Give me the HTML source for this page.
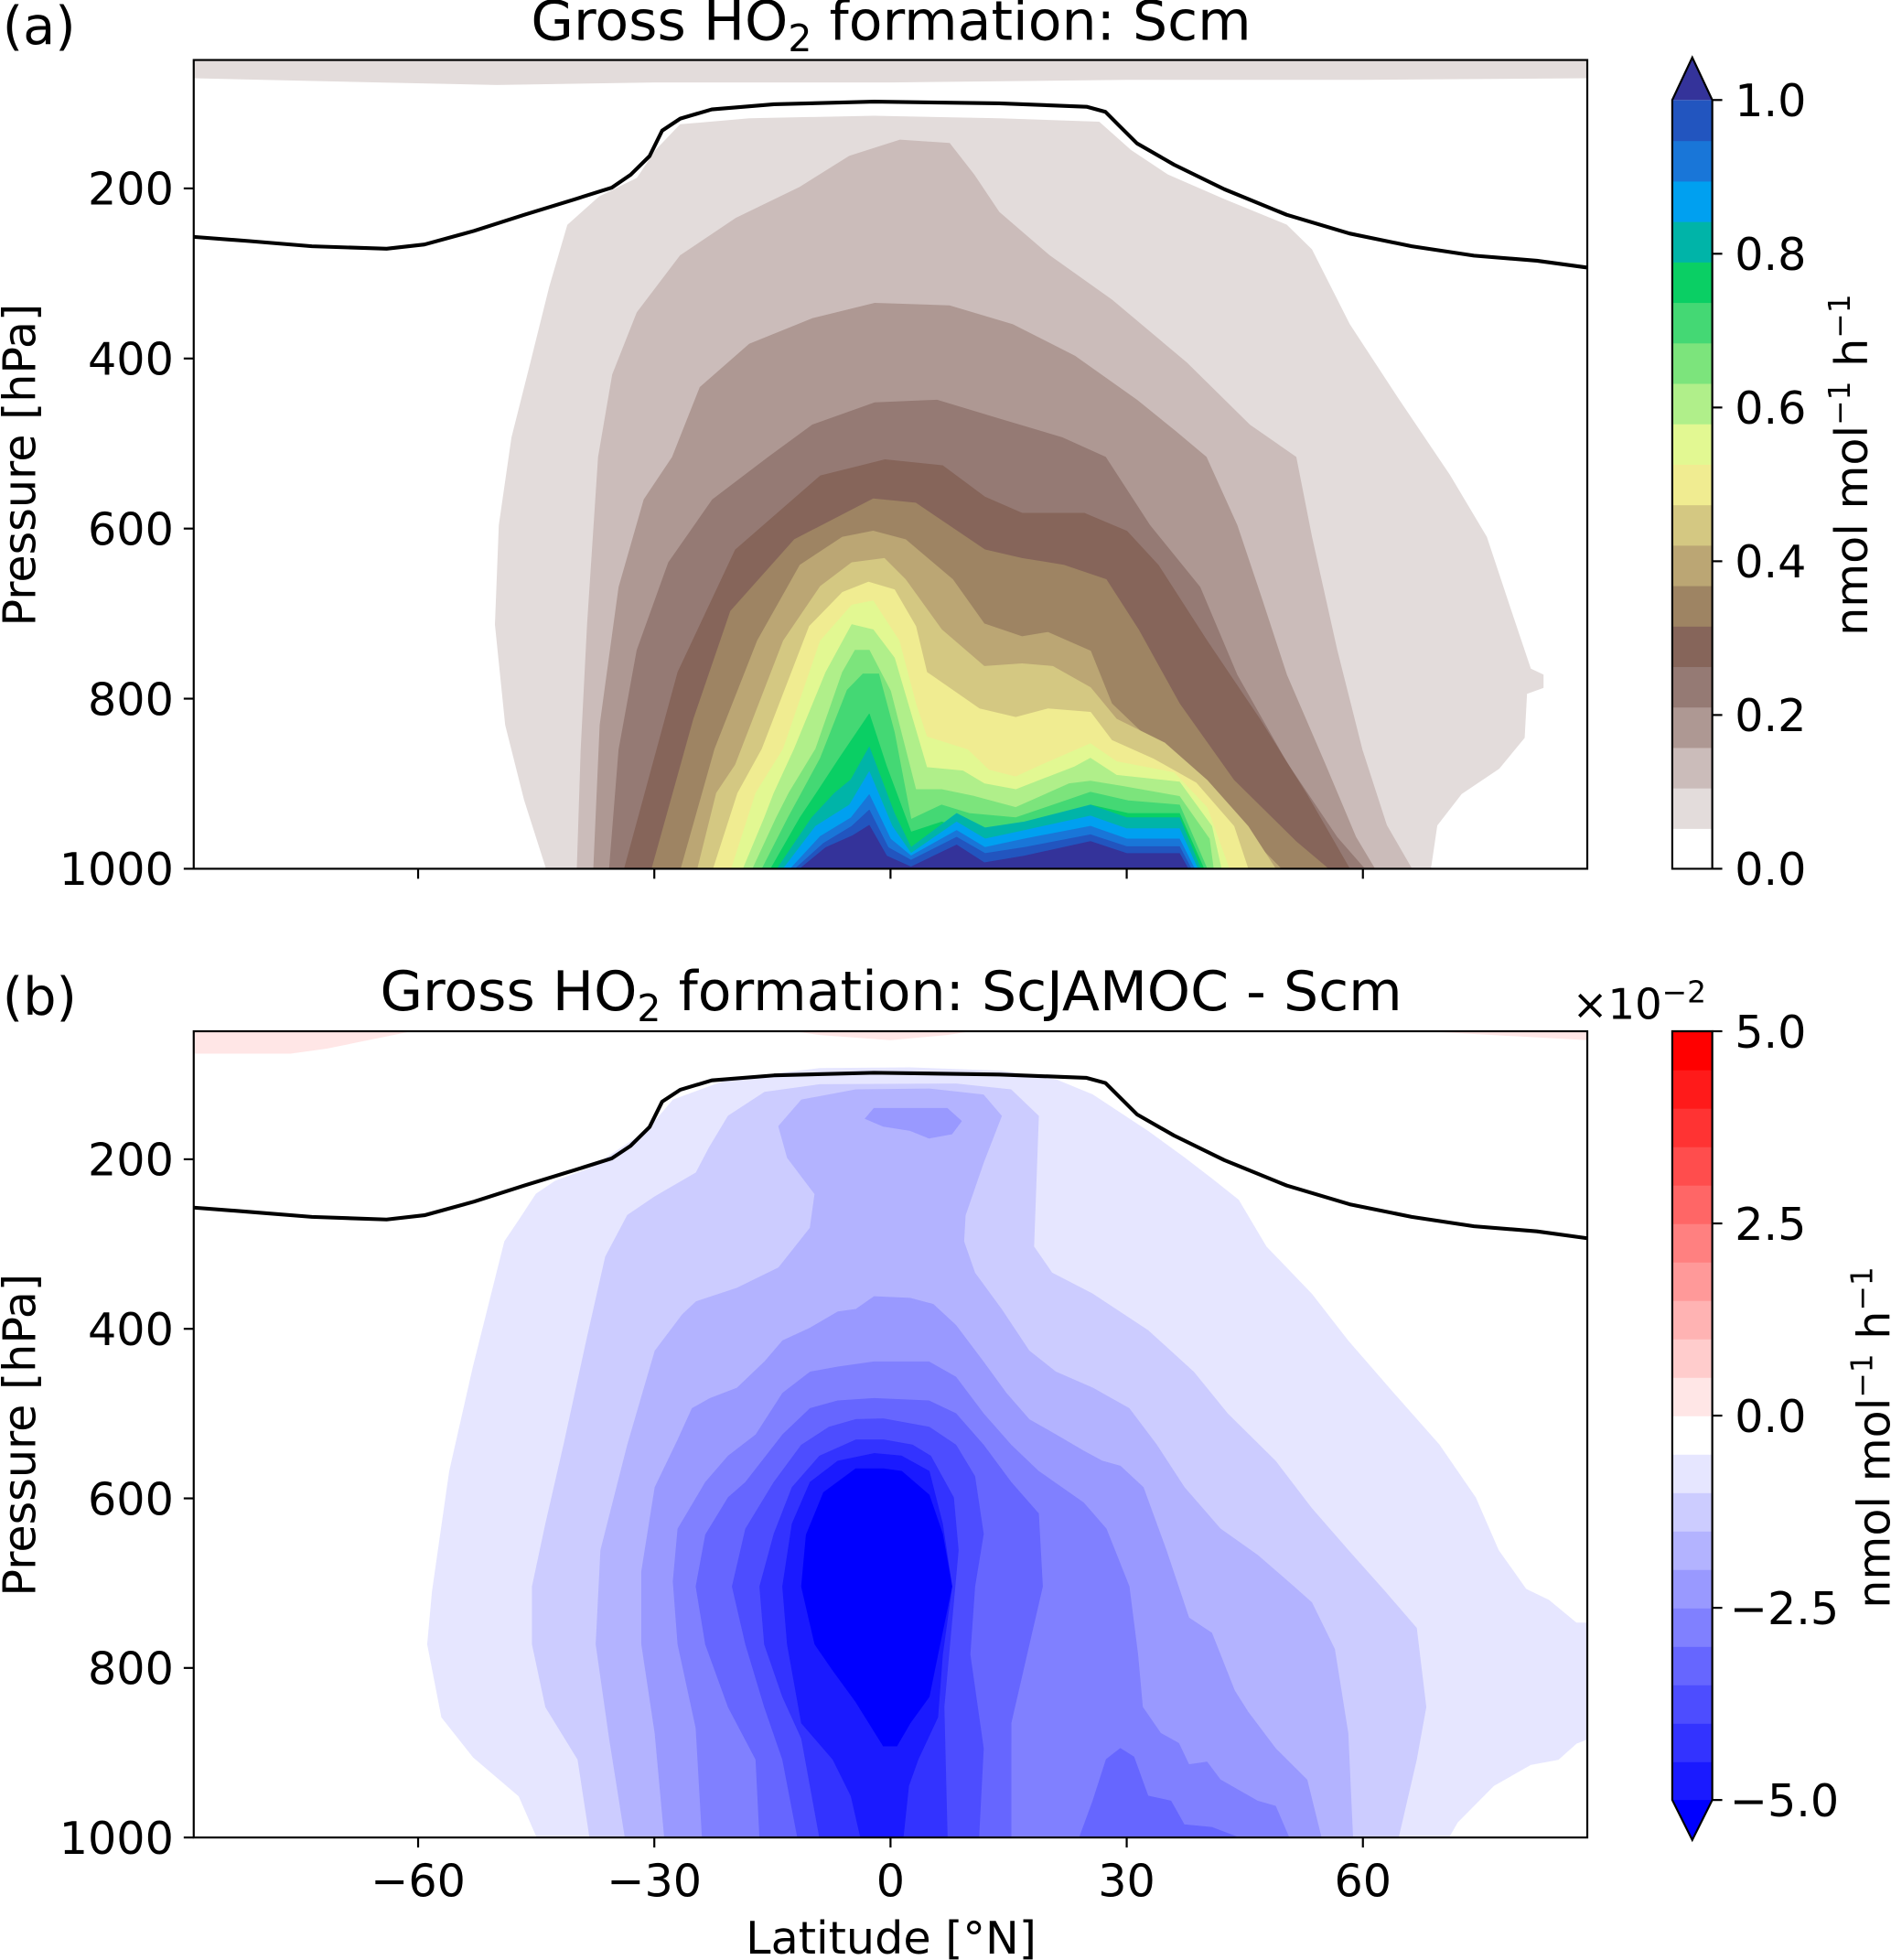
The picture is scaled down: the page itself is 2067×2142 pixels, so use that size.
<!DOCTYPE html>
<html><head><meta charset="utf-8"><title>Gross HO2 formation</title>
<style>
html,body{margin:0;padding:0;background:#fff;}
svg{display:block;}
text{font-family:"DejaVu Sans","Liberation Sans",sans-serif;fill:#000;}
</style></head>
<body>
<svg id="fig" xmlns="http://www.w3.org/2000/svg" width="2067" height="2142" viewBox="0 0 1513 1568" preserveAspectRatio="none">
<defs>
<clipPath id="clipA"><rect x="155" y="48" width="1115" height="647"/></clipPath>
<clipPath id="clipB"><rect x="155" y="825" width="1115" height="645"/></clipPath>
</defs>
<g id="panelA"></g>
<g id="panelB"></g>
<g id="cbarA"></g>
<g id="cbarB"></g>
<text x="2" y="35" font-size="42">(a)</text>
<text x="2" y="812" font-size="42">(b)</text>
<text x="713" y="32" font-size="44" text-anchor="middle">Gross HO<tspan font-size="30" dy="9">2</tspan><tspan dy="-9"> formation: Scm</tspan></text>
<text x="713" y="808" font-size="44" text-anchor="middle">Gross HO<tspan font-size="30" dy="9">2</tspan><tspan dy="-9"> formation: ScJAMOC - Scm</tspan></text>
<text transform="translate(28,372) rotate(-90)" font-size="36" text-anchor="middle">Pressure [hPa]</text>
<text transform="translate(28,1148) rotate(-90)" font-size="36" text-anchor="middle">Pressure [hPa]</text>
<text x="713" y="1563" font-size="36" text-anchor="middle">Latitude [°N]</text>
<text transform="translate(1494,372) rotate(-90)" font-size="36" text-anchor="middle">nmol mol<tspan font-size="24" dy="-14">−1</tspan><tspan dy="14"> h</tspan><tspan font-size="24" dy="-14">−1</tspan></text>
<text transform="translate(1512,1150) rotate(-90)" font-size="36" text-anchor="middle">nmol mol<tspan font-size="24" dy="-14">−1</tspan><tspan dy="14"> h</tspan><tspan font-size="24" dy="-14">−1</tspan></text>
<text x="1258" y="815" font-size="34">×10<tspan font-size="24" dy="-13">−2</tspan></text>
</svg>
<script>
// ---------- shared axes data ----------
const latTicks = [-60, -30, 0, 30, 60];
const latTickLabels = ["−60", "−30", "0", "30", "60"];
const pTicks = [200, 400, 600, 800, 1000];
const pTickLabels = ["200", "400", "600", "800", "1000"];
const tropopause = [[-88.5,257],[-81.4,262],[-73.5,268],[-64,271],[-59.2,266],[-52.9,250],[-46.5,231],[-40.2,213],[-35.4,199],[-33,184],[-30.6,162],[-29,132],[-26.7,118],[-22.7,107],[-14.8,101],[-2.1,98],[13.8,100],[24.9,104],[27.3,110],[28.9,125],[31.3,147],[36,172],[42.4,201],[50.3,231],[58.3,253],[66.2,268],[74.1,279],[82.1,285],[88.4,293]];

// ---------- panel (a) contour data: [lat, hPa] boundaries ----------
const aTop = [[-88.5,49],[88.5,49],[88.5,70],[60,72],[30,72],[0,75],[-30,75],[-50,78],[-65,75],[-88.5,70]];
const a05 = [[-43.7,1000],[-46.5,919],[-48.9,831],[-50.2,713],[-49.7,596],[-48.1,493],[-45.7,405],[-43.3,316],[-41,243],[-37,210],[-32.2,188],[-29.8,155],[-26.7,125],[-17.9,118],[-2.1,115],[13.8,118],[26.5,122],[30.5,155],[35.2,184],[42.4,213],[50.3,243],[53.5,272],[58.3,360],[64.6,449],[71,537],[75.7,610],[78.9,699],[81.3,765],[82.9,772],[82.9,787],[80.8,794],[80.5,846],[77.3,882],[72.5,912],[69.4,949],[68.6,1000]];
const a10 = [[-39.8,1000],[-39.3,860],[-38.5,713],[-37.1,516],[-35.3,419],[-32.2,346],[-26.7,279],[-19.6,235],[-11.6,199],[-5.2,162],[1.2,143],[7.5,147],[10.6,184],[13.8,228],[20.2,279],[28.1,331],[37.6,405],[45.6,478],[51.5,516],[53.5,610],[56.7,743],[59.9,860],[63,949],[66.2,1000]];
const a15 = [[-37.7,1000],[-36.9,831],[-34.5,669],[-31.3,566],[-27.7,516],[-24.2,434],[-17.9,383],[-9.9,353],[-2,335],[7.5,338],[15.5,360],[23.4,397],[31.3,449],[36.1,485],[40.1,516],[44,596],[47.2,684],[50.3,772],[55.1,875],[59.1,963],[61.5,1000]];
const a20 = [[-35.7,1000],[-34.5,860],[-32.2,743],[-28.2,640],[-22.6,566],[-15.5,516],[-9.9,478],[-2,452],[5.9,449],[13.8,471],[21.8,493],[27.3,516],[32.9,596],[39.3,669],[44,772],[50.3,875],[56.7,963],[60.2,1000]];
const a25 = [[-33.8,1000],[-27,769],[-19.7,625],[-8.9,538],[-0.7,519],[6.6,526],[12,563],[16.7,582],[24.6,582],[30,603],[34,643],[40.2,732],[46.9,824],[52.9,913],[58.3,1000]];
const a30 = [[-30.3,1000],[-25,824],[-20.3,697],[-12.2,613],[-2.2,565],[3.2,570],[12,625],[16.7,635],[22,643],[27.4,660],[31.5,719],[36.7,806],[43.6,896],[51.5,968],[55.6,1000]];
const a35 = [[-26.6,1000],[-22.3,859],[-16.9,732],[-11.5,643],[-6.1,610],[-2.2,603],[1.9,613],[7.9,660],[11.9,712],[16.7,727],[20,722],[25.4,744],[28.1,806],[34.1,859],[40.2,913],[46.2,968],[49.6,1000]];
const a40 = [[-24.5,1000],[-22.1,911],[-19.7,878],[-13.6,732],[-8.9,668],[-4.9,640],[-0.8,635],[1.9,660],[6.5,719],[11.9,762],[16.7,759],[20.6,762],[25.4,787],[28.7,824],[34.8,852],[40.2,896],[45.4,950],[48.9,1000]];
const a45 = [[-22.5,1000],[-19.4,911],[-16.3,859],[-10.3,715],[-6.1,675],[-2.8,663],[0.5,672],[3.2,715],[4.6,769],[11.3,812],[15.9,822],[20,812],[25.4,816],[28.1,849],[33.4,871],[38.8,899],[43.6,950],[45.4,1000]];
const a50 = [[-20.2,1000],[-17.1,911],[-13.6,859],[-8.9,732],[-4.9,690],[-2.2,685],[1.1,732],[3.2,806],[4.6,845],[9.8,860],[12.5,884],[15.9,892],[19.2,878],[25.4,853],[28.7,874],[36,887],[40.2,928],[43,1000]];
const a55 = [[-18.7,1000],[-16,940],[-14.8,911],[-12.2,859],[-8.2,769],[-4.9,713],[-2.2,719],[0.5,752],[4.6,881],[9.2,885],[11.9,900],[15.9,907],[23.4,880],[25.4,870],[28.7,890],[36.7,898],[40.8,950],[42,1000]];
const a60 = [[-17.5,1000],[-14.5,940],[-12.9,911],[-9.5,859],[-6.1,769],[-4.5,743],[-2.7,743],[0,791],[3.2,907],[6.5,907],[10.7,915],[15.9,928],[22.7,900],[25.4,897],[29.4,903],[36.7,915],[40.5,965],[41,1000]];
const a65 = [[-16.3,1000],[-13,940],[-11.3,911],[-8.9,870],[-5.5,790],[-3.5,771],[-1.5,771],[0.5,840],[2.6,942],[6.5,925],[10,935],[15.9,940],[25.4,910],[30.2,920],[36.7,925],[40.2,1000]];
const a70 = [[-15.2,1000],[-11.5,940],[-9.4,911],[-6.5,870],[-2.7,818],[-0.5,880],[2.6,957],[6.5,945],[10,955],[15.9,962],[25.4,925],[30.2,935],[36.7,935],[39.8,1000]];
const a75 = [[-14.4,1000],[-10,940],[-7.1,911],[-5,895],[-2.7,857],[0.5,935],[2.6,975],[8.4,935],[12,952],[17,945],[25.4,925],[30,940],[36.7,940],[39.4,1000]];
const a80 = [[-13.6,1000],[-9.5,950],[-5.2,925],[-2.7,886],[0.2,950],[2.6,982],[8.4,945],[12,965],[17,955],[25.4,938],[30,953],[36.7,953],[39,1000]];
const a85 = [[-12.7,1000],[-8.9,962],[-5,940],[-2.7,913],[0,965],[2.6,985],[8.4,955],[12,975],[17,965],[25.4,950],[30,965],[36.7,965],[38.6,1000]];
const a90 = [[-12.1,1000],[-8.5,970],[-4.9,950],[-2.7,931],[-0.3,975],[2.6,990],[8.4,963],[12,982],[17,975],[25.4,960],[30,974],[36.7,974],[38.2,1000]];
const a95 = [[-11.5,1000],[-8.2,975],[-4.8,961],[-2.7,949],[-0.5,985],[2.6,998],[8.4,972],[11.9,993],[17,985],[25.4,968],[30,982],[36.7,982],[37.8,1000]];
const aShapes = [aTop, a05, a10, a15, a20, a25, a30, a35, a40, a45, a50, a55, a60, a65, a70, a75, a80, a85, a90, a95];
const aShapeBand = [1, 1, 2, 3, 4, 5, 6, 7, 8, 9, 10, 11, 12, 13, 14, 15, 16, 17, 18, 19];
const aBandColors = ["#ffffff","#e3dcdb","#cbbcba","#ae9893","#957a74","#86655a","#9e8463","#bba674","#d4c882","#f0ec91","#e2f892","#b0ef8a","#7ce47c","#44d874","#0acf64","#00b4a8","#00a0f0","#1976d8","#2255bf","#34339a"];
const aCbarTicks = [0.0, 0.2, 0.4, 0.6, 0.8, 1.0];
const aCbarTickLabels = ["0.0","0.2","0.4","0.6","0.8","1.0"];

// ---------- panel (b) contour data ----------
const bPosLeft = [[-88.5,49],[-61,49],[-71.6,69],[-76.2,75],[-88.5,75]];
const bPosMid = [[-12,49],[-9,53],[0,59],[7.2,53],[10,49]];
const bPosRight = [[68.6,49],[88.5,49],[88.5,59]];
const bm05 = [[-44.9,1000],[-47.2,951],[-53,905],[-57,858],[-58.8,772],[-58.2,710],[-56,568],[-53,445],[-49,297],[-47.2,272],[-45,241],[-42.6,226],[-38,210],[-31,167],[-27.6,130],[-20.6,106],[-9,93],[2.5,92],[14.1,96],[21,106],[25.7,124],[32.7,167],[37.3,198],[40.8,223],[44.2,248],[47.7,303],[53.5,359],[58.1,414],[63.9,476],[69.7,537],[74.3,599],[77.2,661],[80.7,707],[83.6,720],[87.1,747],[88.8,747],[88.8,883],[87.1,889],[84.8,908],[81.3,914],[76.6,939],[72,982],[70.9,1000]];
const bm10 = [[-38.2,1000],[-39.7,908],[-43.8,846],[-45.5,772],[-45.5,704],[-43.8,630],[-41.5,537],[-38.6,414],[-36.2,315],[-33.4,266],[-29.9,244],[-24.7,216],[-23,186],[-20.6,149],[-16,121],[-9,112],[8.3,111],[15.3,118],[18.8,149],[18.2,303],[20.5,334],[25.7,359],[32.7,402],[38.5,451],[42.8,500],[48.9,556],[53.5,612],[58.1,661],[62.8,710],[66.8,753],[68,846],[66.8,908],[64.5,1000]];
const bm15 = [[-33.7,1000],[-35.7,883],[-37.4,772],[-36.8,661],[-33.4,537],[-29.9,426],[-26.4,383],[-24.7,368],[-19.5,352],[-14.2,328],[-10.2,281],[-9.6,241],[-13.1,198],[-14.2,161],[-11.3,130],[-4.4,118],[4.9,117],[11.8,124],[14.1,149],[11.8,204],[9.5,266],[9.3,297],[10.7,334],[14.1,377],[17.6,426],[21,451],[25.7,470],[30.3,494],[33.8,537],[37.3,587],[41.9,636],[46.6,667],[51.2,704],[53.5,723],[56.4,778],[58.1,877],[58.7,1000]];
const bm20blob = [[-3.2,152],[-2.1,140],[7.2,140],[9,155],[7.8,170],[4.9,175],[2.5,166],[-0.9,161]];
const bm20 = [[-28.7,1000],[-29.9,877],[-31.6,772],[-31.6,686],[-29.9,587],[-27,531],[-25.2,494],[-22.9,482],[-19.5,470],[-16,439],[-13.7,414],[-10.2,399],[-6.7,380],[-4.4,377],[-2.1,362],[2.5,364],[5.4,371],[8.3,396],[11.8,439],[14.7,476],[17.6,507],[21,525],[24.5,544],[26.9,556],[29.2,562],[32.1,587],[35,661],[37.9,741],[40.8,759],[43.7,827],[45.4,852],[48.9,895],[52.9,932],[54.7,1000]];
const bm25 = [[-23.9,1000],[-24.7,871],[-27,772],[-27.6,698],[-27,636],[-23.5,581],[-20.6,550],[-17.1,525],[-13.7,476],[-10.2,451],[-6.7,445],[-2.1,439],[4.9,439],[8.3,457],[11.8,500],[15.3,537],[18.8,568],[24.5,605],[27.4,636],[30.3,704],[31.4,784],[32,846],[34.3,877],[36.6,889],[37.9,914],[40.2,911],[41.9,932],[46.6,957],[48.9,963],[50.6,1000]];
const bm30 = [[-16.6,1000],[-17.1,908],[-20.6,846],[-23.5,772],[-24.7,704],[-23.5,643],[-20.6,599],[-18.4,581],[-13.7,525],[-10.2,494],[-6.7,485],[-2.1,482],[4.9,485],[8.3,500],[11.8,537],[15.3,581],[18.8,618],[19.3,704],[17.6,772],[15.3,865],[15.3,1000]];
const bm30blob = [[24,1000],[25.7,957],[27.4,908],[29.2,895],[30.9,905],[32.7,951],[35.6,957],[37.3,985],[40.8,988],[44.2,1000]];
const bm35 = [[-11.8,1000],[-13.7,908],[-16,846],[-18.4,772],[-20.1,704],[-18.4,636],[-14.8,581],[-11.3,537],[-7.8,516],[-4.4,507],[-0.9,506],[4.9,516],[8.3,537],[10.7,574],[11.8,642],[10.7,704],[10.1,784],[11.8,895],[11.2,1000]];
const bm40 = [[-9,1000],[-11.3,883],[-13.7,834],[-16,772],[-16.6,704],[-14.8,642],[-12.5,587],[-9,550],[-4.4,531],[-0.9,531],[2.8,537],[5.1,550],[8,599],[8.6,661],[8,723],[6.8,846],[7.2,1000]];
const bm45 = [[-3.8,1000],[-5,951],[-7.3,908],[-11.3,865],[-13.1,772],[-13.7,704],[-12.5,630],[-10.2,581],[-6.7,556],[-2.1,547],[1.4,550],[4.9,568],[6.6,630],[7.8,704],[6.6,784],[6,858],[3.5,908],[2.3,939],[1.6,1000]];
const bm50 = [[-0.9,565],[1.4,568],[4.9,596],[6.6,642],[7.8,704],[6,784],[4.9,834],[2.5,865],[0.8,892],[-0.9,892],[-4.4,840],[-7.3,803],[-9.6,772],[-11.3,704],[-10.7,643],[-8.5,593],[-4.4,565]];
const bShapes = [bPosLeft, bPosMid, bPosRight, bm05, bm10, bm15, bm20, bm20blob, bm25, bm30, bm30blob, bm35, bm40, bm45, bm50];
const bShapeBand = [9, 9, 9, 11, 12, 13, 14, 14, 15, 16, 16, 17, 18, 19, 20];
const bBandColors = ["#ff0000","#ff1a1a","#ff3333","#ff4d4d","#ff6666","#ff8080","#ff9999","#ffb3b3","#ffcccc","#ffe6e6","#ffffff","#e6e6ff","#ccccff","#b3b3ff","#9999ff","#8080ff","#6666ff","#4d4dff","#3333ff","#1a1aff","#0000ff"];
const bCbarTicks = [5.0, 2.5, 0.0, -2.5, -5.0];
const bCbarTickLabels = ["5.0","2.5","0.0","−2.5","−5.0"];

// ---------- geometry ----------
const NS = "http://www.w3.org/2000/svg";
const X0 = 155, X1 = 1270, LAT0 = -88.5, LAT1 = 88.5, PTOP = 49, PBOT = 1000;
function xScale(lat){ return X0 + (lat - LAT0) / (LAT1 - LAT0) * (X1 - X0); }
function yScaleFor(top, bot){ return p => top + (p - PTOP) / (PBOT - PTOP) * (bot - top); }
function mk(tag, attrs, parent){ const e = document.createElementNS(NS, tag); for (const k in attrs) e.setAttribute(k, attrs[k]); parent.appendChild(e); return e; }
function ptsStr(pts, ys){ return pts.map(q => xScale(q[0]).toFixed(1) + "," + ys(q[1]).toFixed(1)).join(" "); }

function drawPanel(g, top, bot, clipId, shapes, bands, colors, showXLabels, prefix){
  const ys = yScaleFor(top, bot);
  const cg = mk("g", {"clip-path": "url(#" + clipId + ")"}, g);
  
  
  shapes.forEach((s, i) => {
    const poly = mk("polygon", {points: ptsStr(s, ys), fill: colors[bands[i]], stroke: colors[bands[i]], "stroke-width": 0.6, "stroke-linejoin": "round"}, cg);
    
    
  });
  const line = mk("polyline", {points: ptsStr(tropopause, ys), fill: "none", stroke: "#000", "stroke-width": 3, "stroke-linejoin": "round"}, cg);
  
  
  const frame = mk("rect", {x: X0, y: top, width: X1 - X0, height: bot - top, fill: "none", stroke: "#000", "stroke-width": 1.6}, g);
  
  
  pTicks.forEach((p, i) => {
    const y = ys(p);
    const t = mk("line", {x1: X0 - 8, x2: X0, y1: y, y2: y, stroke: "#000", "stroke-width": 1.6}, g);
    
    
    const lab = mk("text", {x: X0 - 16, y: y + 13, "font-size": 36, "text-anchor": "end"}, g);
    lab.textContent = pTickLabels[i];
    
    
  });
  latTicks.forEach((lat, i) => {
    const x = xScale(lat);
    const t = mk("line", {x1: x, x2: x, y1: bot, y2: bot + 8, stroke: "#000", "stroke-width": 1.6}, g);
    
    
    if (showXLabels){
      const lab = mk("text", {x: x, y: bot + 47, "font-size": 36, "text-anchor": "middle"}, g);
      lab.textContent = latTickLabels[i];
      
      
    }
  });
}

function drawCbar(g, top, bot, colors, vmin, vmax, ticks, labels, extendTop, extendBottom, bandOffset, nBands, prefix){
  const x = 1338, w = 32;
  const h = (bot - top) / nBands;
  for (let i = 0; i < nBands; i++){
    const c = colors[bandOffset + i];
    const r = mk("rect", {x: x, y: bot - (i + 1) * h, width: w, height: h + 0.5, fill: c}, g);
    
    
  }
  let outline = "";
  if (extendTop){
    const tri = mk("polygon", {points: `${x},${top} ${x + w / 2},${top - 34} ${x + w},${top}`, fill: colors[bandOffset + nBands]}, g);
    
    
    outline = `${x},${bot} ${x},${top} ${x + w / 2},${top - 34} ${x + w},${top} ${x + w},${bot} ${x},${bot}`;
  } else {
    const tri = mk("polygon", {points: `${x},${bot} ${x + w / 2},${bot + 32} ${x + w},${bot}`, fill: colors[colors.length - 1]}, g);
    
    
    outline = `${x},${top} ${x},${bot} ${x + w / 2},${bot + 32} ${x + w},${bot} ${x + w},${top} ${x},${top}`;
  }
  const ol = mk("polygon", {points: outline, fill: "none", stroke: "#000", "stroke-width": 1.6}, g);
  
  
  ticks.forEach((v, i) => {
    const y = bot - (v - vmin) / (vmax - vmin) * (bot - top);
    const t = mk("line", {x1: x + w, x2: x + w + 8, y1: y, y2: y, stroke: "#000", "stroke-width": 1.6}, g);
    
    
    const lab = mk("text", {x: labels[i].startsWith("−") ? x + w + 14 : x + w + 18, y: y + 13, "font-size": 36}, g);
    lab.textContent = labels[i];
    
    
  });
}

drawPanel(document.getElementById("panelA"), 48, 695, "clipA", aShapes, aShapeBand, aBandColors, false, "panel-a");
drawPanel(document.getElementById("panelB"), 825, 1470, "clipB", bShapes, bShapeBand, bBandColors, true, "panel-b");
drawCbar(document.getElementById("cbarA"), 80, 695, aBandColors, 0, 1, aCbarTicks, aCbarTickLabels, true, false, 0, 19, "colorbar-a");
const bBandsBottomUp = bBandColors.slice(0, 20).reverse().concat([bBandColors[20]]);
drawCbar(document.getElementById("cbarB"), 825, 1440, bBandsBottomUp, -5, 5, bCbarTicks, bCbarTickLabels, false, true, 0, 20, "colorbar-b");
</script>
</body></html>
